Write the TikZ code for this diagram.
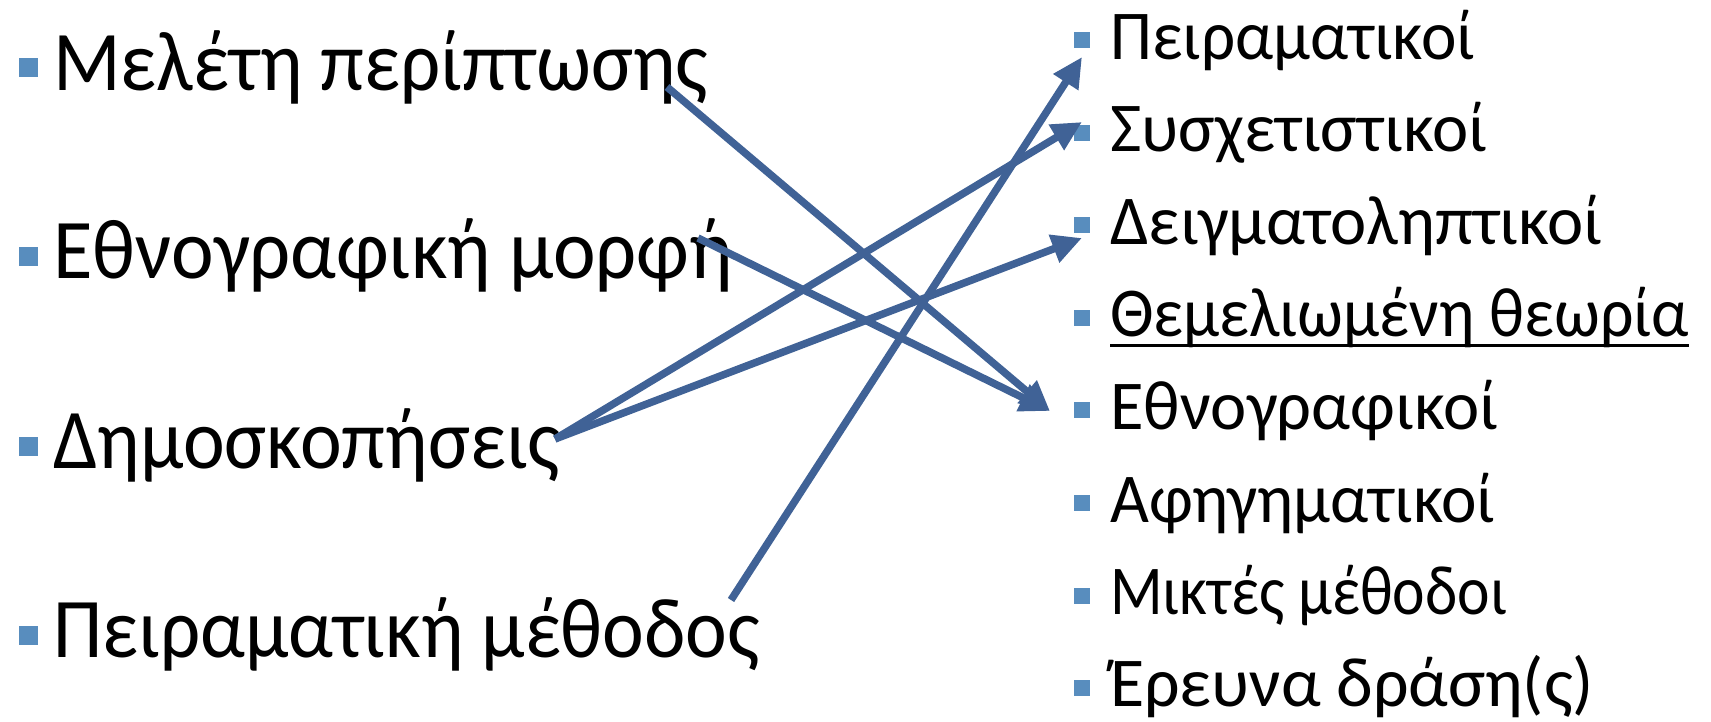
\documentclass[tikz,border=0pt]{standalone}
\usepackage{fontspec}
\setmainfont{Carlito}
\usetikzlibrary{arrows.meta}
\definecolor{arrowblue}{RGB}{64,98,150}
\definecolor{bulletblue}{RGB}{88,141,190}
\newcommand{\lfnt}[1]{\fontsize{85}{100}\selectfont\addfontfeatures{FakeStretch=#1}}
\newcommand{\rfnt}[1]{\fontsize{70}{84}\selectfont\addfontfeatures{FakeStretch=#1}}
\begin{document}
\begin{tikzpicture}[x=1pt,y=-1pt,
  lefttext/.style={anchor=base west,inner sep=0pt,font=\lfnt{0.93}},
  righttext/.style={anchor=base west,inner sep=0pt,font=\rfnt{0.98}},
  bulletL/.style={fill=bulletblue,minimum size=19pt,inner sep=0pt},
  bulletR/.style={fill=bulletblue,minimum size=16pt,inner sep=0pt},
  conn/.style={draw=arrowblue,line width=7.5pt,-{Triangle[length=30pt,width=28pt]}}]
\useasboundingbox (0,0) rectangle (1711,721);
% left column
\node[bulletL] (lb1) at (28.5,67.5) {};
\node[lefttext] (l1) at (53,90) {Μελέτη περίπτωσης};
\node[bulletL] (lb2) at (28.5,256) {};
\node[lefttext,font=\lfnt{0.95}] (l2) at (53,278.5) {Εθνογραφική μορφή};
\node[bulletL] (lb3) at (28.5,446) {};
\node[lefttext] (l3) at (53,468.5) {Δημοσκοπήσεις};
\node[bulletL] (lb4) at (28.5,635) {};
\node[lefttext] (l4) at (53,657.5) {Πειραματική μέθοδος};
% right column
\node[bulletR] (rb1) at (1082,40) {};
\node[righttext,font=\rfnt{0.96}] (r1) at (1110,59) {Πειραματικοί};
\node[bulletR] (rb2) at (1082,132.6) {};
\node[righttext] (r2) at (1110,151.6) {Συσχετιστικοί};
\node[bulletR] (rb3) at (1082,225.2) {};
\node[righttext] (r3) at (1110,244.2) {Δειγματοληπτικοί};
\node[bulletR] (rb4) at (1082,317.8) {};
\node[righttext,font=\rfnt{0.94}] (r4) at (1110,336.8) {Θεμελιωμένη θεωρία};
\node[bulletR] (rb5) at (1082,410.4) {};
\node[righttext] (r5) at (1110,429.4) {Εθνογραφικοί};
\node[bulletR] (rb6) at (1082,503) {};
\node[righttext,font=\rfnt{0.96}] (r6) at (1110,522) {Αφηγηματικοί};
\node[bulletR] (rb7) at (1082,595.6) {};
\node[righttext,font=\rfnt{0.88}] (r7) at (1110,614.6) {Μικτές μέθοδοι};
\node[bulletR] (rb8) at (1082,688.2) {};
\node[righttext,font=\rfnt{1.0}] (r8) at (1110,706) {Έρευνα δράση(ς)};
\draw[line width=3pt] ([yshift=-9pt]r4.base west) -- ([yshift=-9pt]r4.base east);
% connector ends
\coordinate (s1) at (667,87);
\coordinate (s2) at (698,238);
\coordinate (s3) at (555,439);
\coordinate (s5) at (731,600);
\coordinate (e1) at (1050,411);
\coordinate (e3) at (1082,122);
\coordinate (e4) at (1082,238);
\coordinate (e5) at (1082,57);
\draw[conn] (s1) -- (e1);
\draw[conn] (s2) -- (e1);
\draw[conn] (s3) -- (e3);
\draw[conn] (s3) -- (e4);
\draw[conn] (s5) -- (e5);
\end{tikzpicture}
\end{document}
